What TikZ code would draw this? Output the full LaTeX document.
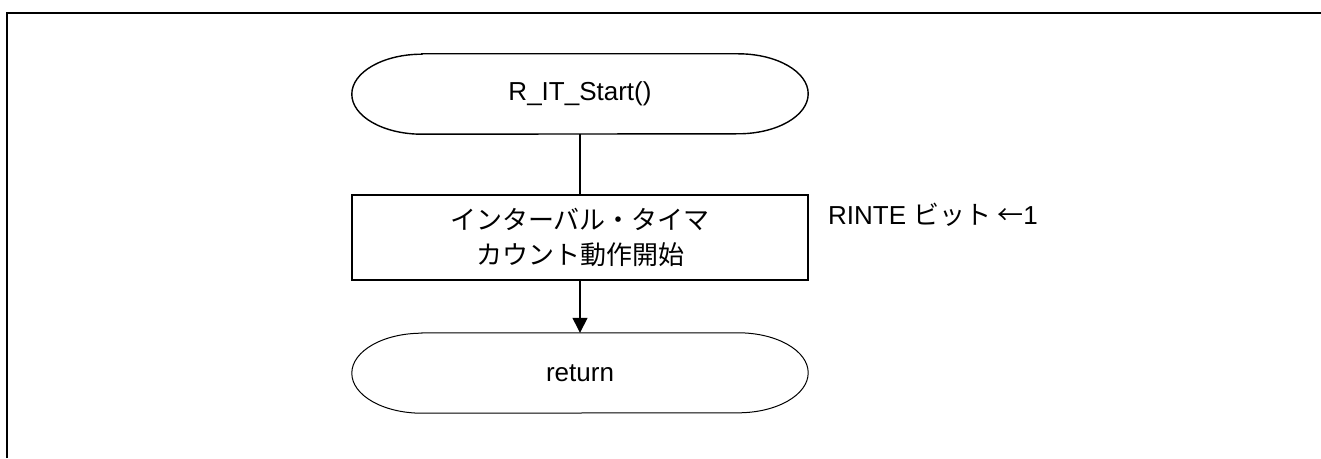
\documentclass[tikz,border=0pt]{standalone}
\usepackage{fontspec}
\setmainfont{Liberation Sans}
\newfontfamily\cjk{Noto Sans CJK JP}
\usetikzlibrary{arrows.meta}
\tikzset{
  termbox/.style={minimum width=456pt, minimum height=80pt, inner sep=0pt, font=\fontsize{26}{33}\selectfont},
  procbox/.style={draw, line width=2pt, minimum width=456pt, minimum height=85pt, inner sep=0pt, align=center, font=\fontsize{26}{35}\selectfont\cjk},
  notetext/.style={inner sep=0pt, font=\fontsize{26}{33}\selectfont},
  conn/.style={line width=1.4pt},
  arr/.style={line width=1.4pt, -{Triangle[length=15pt,width=15pt]}},
  frameline/.style={line width=2.2pt}
}
\newcommand{\termpath}[2]{%
  \draw[line width=#2] ([xshift=70pt]#1.north west) -- ([xshift=-70pt]#1.north east)
    arc[start angle=90,end angle=-90,x radius=70pt,y radius=40pt]
    -- ([xshift=70pt]#1.south west)
    arc[start angle=270,end angle=90,x radius=70pt,y radius=40pt] -- cycle;}
\begin{document}
\begin{tikzpicture}[x=1pt,y=1pt]
\useasboundingbox (0,0) rectangle (1321,458);
\coordinate (fa) at (7,0);
\coordinate (fb) at (7,445);
\coordinate (fc) at (1321,445);
\draw[frameline] (fa) -- (fb) -- (fc);

\node[termbox] (start) at (580,364) {R\_IT\_Start()};
\termpath{start}{1.4pt}
\node[procbox] (proc) at (580,220.5) {インターバル・タイマ\\カウント動作開始};
\node[termbox] (ret) at (580,85) {return};
\termpath{ret}{1pt}
\node[notetext, anchor=base west] (note) at (828,233) {RINTE {\cjk ビット ←}1};

\draw[conn] (start.south) -- (proc.north);
\draw[arr] (proc.south) -- (ret.north);
\end{tikzpicture}
\end{document}
